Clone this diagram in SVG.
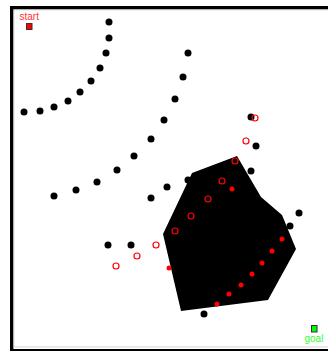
<svg xmlns="http://www.w3.org/2000/svg" width="328" height="351" viewBox="0 0 328 351">
<style>
.b{fill:#000}
.ro{fill:none;stroke:#f00;stroke-width:1.2}
.rf{fill:#f00}
.lbl{font-family:"Liberation Sans",Arial,sans-serif;font-size:10px}
</style>
<rect x="0" y="0" width="328" height="351" fill="#fff"/>
<g id="frame">
<rect x="11.7" y="7.7" width="320" height="343" fill="none" stroke="#000" stroke-width="3.4"/>
<rect x="13.9" y="9.9" width="320" height="337" fill="none" stroke="#ccc" stroke-width="0.8"/>
</g>
<g id="obstacle">
<polygon points="192,173 237,156 261,197 282,215 296,249 268,300 181,311 163,234" fill="#000"/>
</g>
<g id="black-dots" class="b">
<circle cx="109" cy="22" r="3.5"/>
<circle cx="109" cy="38" r="3.5"/>
<circle cx="106" cy="53" r="3.5"/>
<circle cx="100" cy="68" r="3.5"/>
<circle cx="91" cy="81" r="3.5"/>
<circle cx="80" cy="92" r="3.5"/>
<circle cx="68" cy="101" r="3.5"/>
<circle cx="54" cy="107" r="3.5"/>
<circle cx="40" cy="111" r="3.5"/>
<circle cx="24" cy="112" r="3.5"/>
<circle cx="188" cy="53" r="3.5"/>
<circle cx="183" cy="77" r="3.5"/>
<circle cx="175" cy="99" r="3.5"/>
<circle cx="164" cy="120" r="3.5"/>
<circle cx="151" cy="139" r="3.5"/>
<circle cx="134" cy="156" r="3.5"/>
<circle cx="117" cy="170" r="3.5"/>
<circle cx="97" cy="182" r="3.5"/>
<circle cx="76" cy="190" r="3.5"/>
<circle cx="54" cy="196" r="3.5"/>
<circle cx="188" cy="180" r="3.5"/>
<circle cx="167" cy="187" r="3.5"/>
<circle cx="151" cy="198" r="3.5"/>
<circle cx="251" cy="117" r="3.5"/>
<circle cx="256" cy="146" r="3.5"/>
<circle cx="251" cy="171" r="3.5"/>
<circle cx="299" cy="213" r="3.5"/>
<circle cx="290" cy="226" r="3.5"/>
<circle cx="108" cy="245" r="3.5"/>
<circle cx="131" cy="245" r="3.5"/>
<circle cx="204" cy="314" r="3.5"/>
</g>
<g id="red-open" class="ro">
<circle cx="255" cy="118" r="3"/>
<circle cx="246" cy="141" r="3"/>
<circle cx="235" cy="161" r="3"/>
<circle cx="222" cy="181" r="3"/>
<circle cx="208" cy="199" r="3"/>
<circle cx="191" cy="216" r="3"/>
<circle cx="175" cy="231" r="3"/>
<circle cx="156" cy="245" r="3"/>
<circle cx="137" cy="256" r="3"/>
<circle cx="116" cy="266" r="3"/>
</g>
<g id="red-filled" class="rf">
<circle cx="232" cy="189" r="2.5"/>
<circle cx="169" cy="268" r="2.5"/>
<circle cx="282" cy="239" r="2.5"/>
<circle cx="272" cy="251" r="2.5"/>
<circle cx="262" cy="263" r="2.5"/>
<circle cx="252" cy="274" r="2.5"/>
<circle cx="241" cy="285" r="2.5"/>
<circle cx="229" cy="294" r="2.5"/>
<circle cx="217" cy="304" r="2.5"/>
</g>
<g id="start">
<rect x="26.5" y="23.5" width="5.5" height="6" fill="#f00" stroke="#333" stroke-width="1"/>
<text class="lbl" x="19.5" y="20" fill="#f33">start</text>
</g>
<g id="goal">
<rect x="311.5" y="325.5" width="5.5" height="6.5" fill="#0f0" stroke="#333" stroke-width="1"/>
<text class="lbl" x="304.5" y="342" fill="#3f3">goal</text>
</g>
</svg>
